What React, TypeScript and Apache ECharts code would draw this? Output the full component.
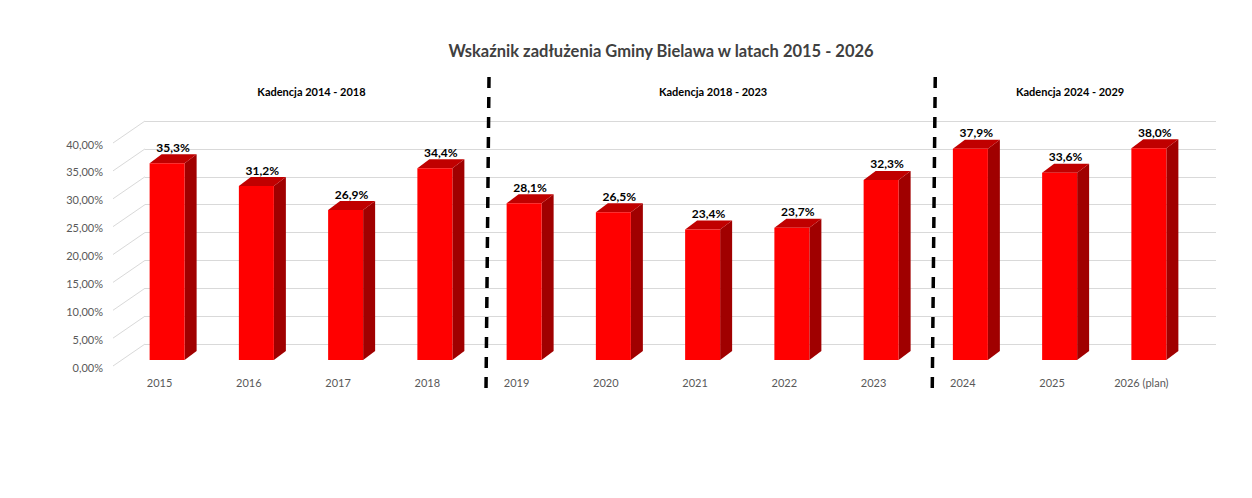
import React, { useEffect, useRef } from "react";
import * as echarts from "echarts";

const categories = ["2015", "2016", "2017", "2018", "2019", "2020", "2021", "2022", "2023", "2024", "2025", "2026 (plan)"];
const values = [35.3, 31.2, 26.9, 34.4, 28.1, 26.5, 23.4, 23.7, 32.3, 37.9, 33.6, 38.0];
const yTicks = [0, 5, 10, 15, 20, 25, 30, 35, 40];
const terms = ["Kadencja 2014 - 2018", "Kadencja 2018 - 2023", "Kadencja 2024 - 2029"];
const termStart = [0, 4, 9];
const termEnd = [3, 8, 11];
const dividerAfter = [3, 8];
const title = "Wskaźnik zadłużenia Gminy Bielawa w latach 2015 - 2026";

const FONT = "Lato, 'Open Sans', sans-serif";

export default function App() {
  const ref = useRef<HTMLDivElement>(null);
  useEffect(() => {
    if (!ref.current) return;
    const chart = echarts.init(ref.current, undefined, { renderer: "svg" });
    const fmtPct = (v: number) => v.toFixed(2).replace(".", ",") + "%";
    const fmtVal = (v: number) => v.toFixed(1).replace(".", ",") + "%";
    chart.setOption({
      animation: false,
      backgroundColor: "#ffffff",
      title: {
        text: title,
        left: 656,
        top: 37,
        textAlign: "center",
        textStyle: { fontFamily: FONT, fontSize: 16.5, fontWeight: "bold", color: "#404040" },
      },
      grid: [
        { left: 115, right: 66, top: 144, bottom: 131 },
        { left: 145, right: 36, top: 121, bottom: 154 },
      ],
      xAxis: [
        {
          type: "category",
          gridIndex: 0,
          data: categories,
          axisLine: { show: false },
          axisTick: { show: false },
          axisLabel: { margin: 10, fontFamily: FONT, fontSize: 11, color: "#595959" },
        },
        {
          type: "category",
          gridIndex: 1,
          data: categories,
          show: false,
        },
      ],
      yAxis: [
        {
          type: "value",
          gridIndex: 0,
          min: 0,
          max: 40,
          interval: 5,
          axisLine: { show: false },
          axisTick: { show: false },
          splitLine: { show: false },
          axisLabel: { margin: 12, fontFamily: FONT, fontSize: 11, color: "#595959", formatter: fmtPct },
        },
        {
          type: "value",
          gridIndex: 1,
          min: 0,
          max: 40,
          interval: 5,
          axisLine: { show: false },
          axisTick: { show: false },
          axisLabel: { show: false },
          splitLine: { show: true, lineStyle: { color: "#d9d9d9", width: 1 } },
        },
      ],
      series: [
        {
          type: "custom",
          name: "diagonals",
          xAxisIndex: 0,
          yAxisIndex: 0,
          clip: false,
          silent: true,
          data: yTicks.map((v) => [0, v]),
          encode: { x: 0, y: 1 },
          renderItem: (params: any, api: any) => {
            const x = params.coordSys.x;
            const y = api.coord([0, api.value(1)])[1];
            return {
              type: "line",
              shape: { x1: x - 2, y1: y - 1, x2: x + 30, y2: y - 23 },
              style: { stroke: "#d9d9d9", lineWidth: 1 },
            };
          },
        },
        {
          type: "custom",
          name: "bars",
          xAxisIndex: 0,
          yAxisIndex: 0,
          clip: false,
          data: values.map((v, i) => [i, v]),
          encode: { x: 0, y: 1 },
          renderItem: (params: any, api: any) => {
            const idx = api.value(0);
            const val = api.value(1);
            const [cx, yv] = api.coord([idx, val]);
            const y0 = api.coord([idx, 0])[1];
            const top = yv - 7;
            const bottom = y0 - 7;
            const l = cx - 10;
            const r = cx + 25;
            const dx = 12;
            const dy = 9;
            return {
              type: "group",
              children: [
                {
                  type: "polygon",
                  shape: { points: [[r, top], [r + dx, top - dy], [r + dx, bottom - dy], [r, bottom]] },
                  style: { fill: "#a00000" },
                },
                {
                  type: "polygon",
                  shape: { points: [[l, top], [l + dx, top - dy], [r + dx, top - dy], [r, top]] },
                  style: { fill: "#c00000" },
                },
                {
                  type: "rect",
                  shape: { x: l, y: top, width: r - l, height: bottom - top },
                  style: { fill: "#ff0000" },
                },
                {
                  type: "text",
                  style: {
                    text: fmtVal(val),
                    x: (l + r + dx) / 2,
                    y: top - dy - 1,
                    align: "center",
                    verticalAlign: "bottom",
                    fontFamily: FONT,
                    fontSize: 12,
                    fontWeight: "bold",
                    fill: "#000000",
                  },
                },
              ],
            };
          },
        },
        {
          type: "custom",
          name: "dividers",
          xAxisIndex: 0,
          yAxisIndex: 0,
          clip: false,
          silent: true,
          data: dividerAfter.map((i) => [i, 0]),
          encode: { x: 0, y: 1 },
          renderItem: (params: any, api: any) => {
            const cx = api.coord([api.value(0), 0])[0];
            const band = api.size([1, 0])[0];
            const x = cx + band / 2 + 15;
            return {
              type: "line",
              shape: { x1: x + 2, y1: 77, x2: x - 1, y2: 390 },
              style: { stroke: "#000000", lineWidth: 3.5, lineDash: [11, 9] },
            };
          },
        },
        {
          type: "custom",
          name: "terms",
          xAxisIndex: 0,
          yAxisIndex: 0,
          clip: false,
          silent: true,
          data: terms.map((t, i) => [termStart[i], termEnd[i], 0]),
          encode: { x: [0, 1], y: 2 },
          renderItem: (params: any, api: any) => {
            const xs = api.coord([api.value(0), 0])[0];
            const xe = api.coord([api.value(1), 0])[0];
            return {
              type: "text",
              style: {
                text: terms[params.dataIndex],
                x: (xs + xe) / 2 + 18,
                y: 91,
                align: "center",
                verticalAlign: "middle",
                fontFamily: FONT,
                fontSize: 11,
                fontWeight: "bold",
                fill: "#000000",
              },
            };
          },
        },
      ],
    });
    return () => chart.dispose();
  }, []);
  return (
    <div
      ref={ref}
      style={{ position: "absolute", left: 0, top: 0, width: 1252, height: 498, background: "#fff" }}
    />
  );
}
